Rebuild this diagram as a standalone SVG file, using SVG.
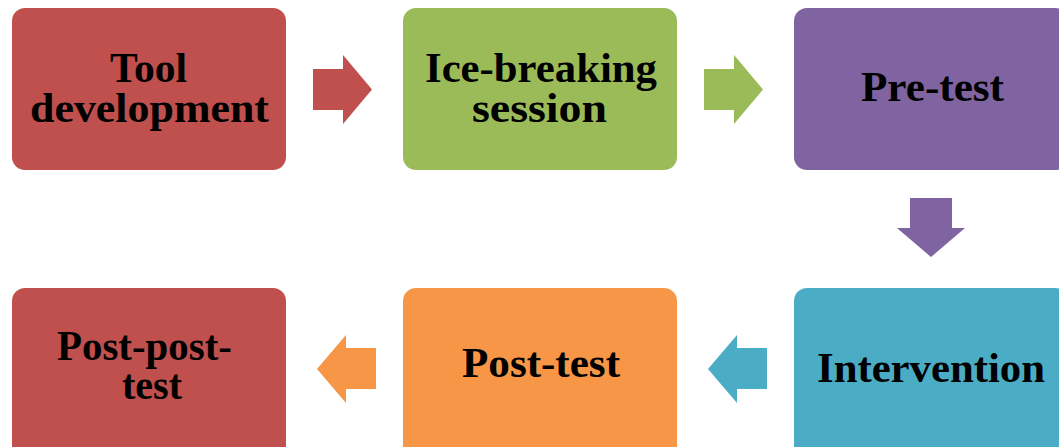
<svg xmlns="http://www.w3.org/2000/svg" width="1059" height="447" viewBox="0 0 1059 447">
<style>
.lbl{font-family:"Liberation Serif","Times New Roman",serif;font-weight:bold;font-size:42px;fill:#000}
.red{fill:#C0504D}.green{fill:#9BBB59}.purple{fill:#8064A2}.teal{fill:#4BACC6}.orange{fill:#F79646}
</style>
<rect width="1059" height="447" fill="#fff"/>
<g id="connectors">
<polygon class="red" points="313,69 343,69 343,55 372,89.5 343,124 343,110 313,110"/>
<polygon class="green" points="704,69 734,69 734,55 763,89.5 734,124 734,110 704,110"/>
<polygon class="purple" points="910,198 952,198 952,228 965,228 931,257 897,228 910,228"/>
<polygon class="teal" points="767,348 737,348 737,335 708,369 737,403 737,389 767,389"/>
<polygon class="orange" points="376,348 346,348 346,335 317,369 346,403 346,389 376,389"/>
</g>
<g id="tool-development">
<rect class="red" x="12" y="8" width="274" height="162" rx="13"/>
<text class="lbl" x="110" y="82" textLength="77" lengthAdjust="spacingAndGlyphs">Tool</text>
<text class="lbl" x="30" y="122" textLength="239" lengthAdjust="spacingAndGlyphs">development</text>
</g>
<g id="ice-breaking">
<rect class="green" x="403" y="8" width="274" height="162" rx="13"/>
<text class="lbl" x="425" y="82" textLength="232" lengthAdjust="spacingAndGlyphs">Ice-breaking</text>
<text class="lbl" x="472" y="122" textLength="135" lengthAdjust="spacingAndGlyphs">session</text>
</g>
<g id="pre-test">
<rect class="purple" x="794" y="8" width="274" height="162" rx="13"/>
<text class="lbl" x="861" y="101" textLength="143" lengthAdjust="spacingAndGlyphs">Pre-test</text>
</g>
<g id="intervention">
<rect class="teal" x="794" y="288" width="274" height="175" rx="13"/>
<text class="lbl" x="817" y="382" textLength="228" lengthAdjust="spacingAndGlyphs">Intervention</text>
</g>
<g id="post-test">
<rect class="orange" x="403" y="288" width="274" height="175" rx="13"/>
<text class="lbl" x="462" y="377" textLength="158" lengthAdjust="spacingAndGlyphs">Post-test</text>
</g>
<g id="post-post-test">
<rect class="red" x="12" y="288" width="274" height="175" rx="13"/>
<text class="lbl" x="57" y="360" textLength="175" lengthAdjust="spacingAndGlyphs">Post-post-</text>
<text class="lbl" x="122" y="399" textLength="60" lengthAdjust="spacingAndGlyphs">test</text>
</g>
</svg>
